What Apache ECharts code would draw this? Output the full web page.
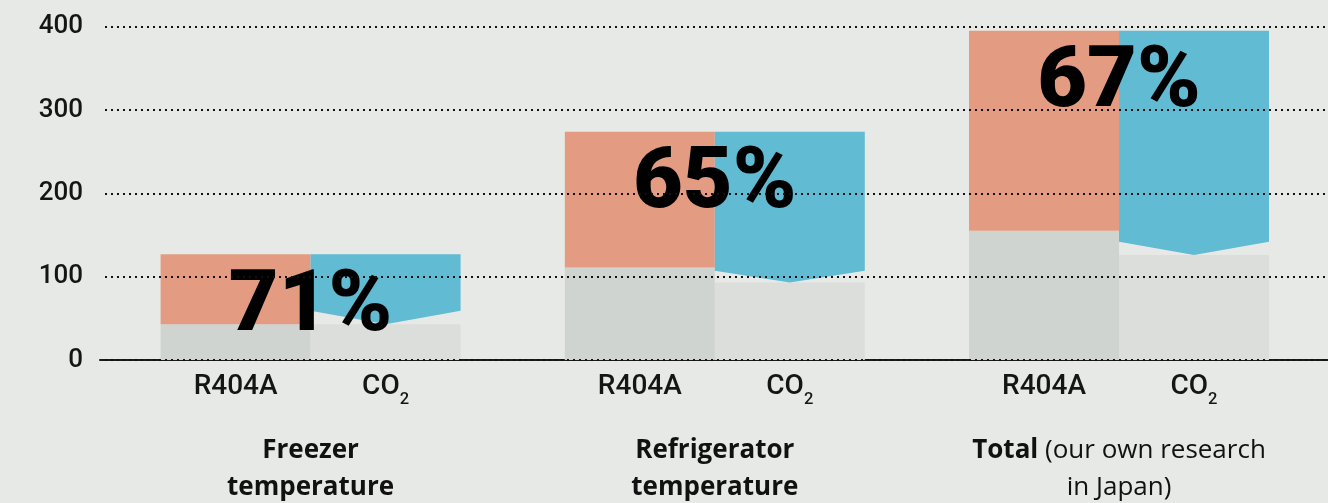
<!DOCTYPE html>
<html>
<head>
<meta charset="utf-8">
<title>R404A vs CO2</title>
<script src="https://cdn.jsdelivr.net/npm/echarts@6.0.0/dist/echarts.min.js"></script>
<style>
  html, body { margin: 0; padding: 0; background: #e7e9e6; }
  #chart { width: 1328px; height: 503px; }
</style>
</head>
<body>
<div id="chart"></div>
<script>
// values
const groups = [
  '{b|Freezer}\n{b|temperature}',
  '{b|Refrigerator}\n{b|temperature}',
  '{b|Total} (our own research\nin Japan)'
];
const refrigerants = ['R404A', 'CO{sub|2}'];
const r404aBase = [43, 111, 155];
const r404aTotal = [127, 274, 395];
const co2Base = [43, 93, 126];
const co2Edge = [59, 107, 142];
const co2Total = [127, 274, 395];
const savings = ['71%', '65%', '67%'];
const yTicks = [0, 100, 200, 300, 400];

const barWidth = 150;
const colors = {
  r404a: '#e39c81',
  r404aBase: '#cfd4d0',
  co2: '#61bbd3',
  co2Base: '#dcdedb'
};

function renderGroup(params, api) {
  const i = api.value(0);
  const base = api.coord([i, 0]);
  const cx = base[0];
  const y0 = base[1];
  const w = barWidth;
  const yOf = v => api.coord([i, v])[1];

  const rb = yOf(api.value(1));
  const rt = yOf(api.value(2));
  const cb = yOf(api.value(3));
  const ce = yOf(api.value(4));
  const ct = yOf(api.value(5));

  const labelStyle = {
    fill: '#151515',
    fontFamily: 'Roboto',
    fontWeight: 500,
    fontSize: 28,
    lineHeight: 44,
    align: 'center',
    verticalAlign: 'middle',
    rich: {
      sub: { fontFamily: 'Roboto', fontWeight: 500, fontSize: 16.5, verticalAlign: 'bottom' }
    }
  };

  return {
    type: 'group',
    children: [
      { type: 'rect', shape: { x: cx - w, y: rb, width: w, height: y0 - rb }, style: { fill: colors.r404aBase } },
      { type: 'rect', shape: { x: cx - w, y: rt, width: w, height: rb - rt }, style: { fill: colors.r404a } },
      { type: 'rect', shape: { x: cx, y: cb, width: w, height: y0 - cb }, style: { fill: colors.co2Base } },
      {
        type: 'polygon',
        shape: { points: [[cx, ct], [cx + w, ct], [cx + w, ce], [cx + w / 2, cb], [cx, ce]] },
        style: { fill: colors.co2 }
      },
      {
        type: 'text', x: cx, y: rt + 54,
        style: {
          text: savings[params.dataIndex],
          fill: '#000',
          fontFamily: 'Roboto',
          fontWeight: 900,
          fontSize: 86,
          align: 'center',
          verticalAlign: 'middle'
        }
      },
      { type: 'text', x: cx - w / 2, y: y0 + 26.5, style: Object.assign({ text: refrigerants[0] }, labelStyle) },
      { type: 'text', x: cx + w / 2, y: y0 + 26.5, style: Object.assign({ text: refrigerants[1] }, labelStyle) },
      {
        type: 'text', x: cx, y: y0 + 72,
        style: {
          text: groups[params.dataIndex],
          fill: '#111',
          fontFamily: 'Open Sans',
          fontSize: 26,
          lineHeight: 37,
          align: 'center',
          verticalAlign: 'top',
          rich: {
            b: { fontFamily: 'Open Sans', fontWeight: 'bold', fontSize: 26, lineHeight: 37, fill: '#111' }
          }
        }
      }
    ]
  };
}

const chart = echarts.init(document.getElementById('chart'));

chart.setOption({
  backgroundColor: '#e7e9e6',
  animation: false,
  grid: [
    { left: 100, right: 0, top: 26.67, bottom: 143 },
    { left: 105, right: 0, top: 26.67, bottom: 143 }
  ],
  xAxis: [{
    type: 'value',
    gridIndex: 0,
    min: -0.521,
    max: 2.517,
    axisLine: { show: true, lineStyle: { color: '#1a1a1a', width: 2 } },
    axisTick: { show: false },
    axisLabel: { show: false },
    splitLine: { show: false }
  }, {
    type: 'value',
    gridIndex: 1,
    min: 0,
    max: 1,
    show: false
  }],
  yAxis: [{
    type: 'value',
    gridIndex: 0,
    min: yTicks[0],
    max: yTicks[yTicks.length - 1],
    show: false
  }, {
    type: 'value',
    gridIndex: 1,
    z: 3,
    min: yTicks[0],
    max: yTicks[yTicks.length - 1],
    interval: yTicks[1] - yTicks[0],
    axisLine: { show: false },
    axisTick: { show: false },
    axisLabel: {
      margin: 22,
      color: '#151515',
      fontFamily: 'Roboto',
      fontWeight: 500,
      fontSize: 26
    },
    splitLine: {
      show: true,
      lineStyle: { color: '#111', width: 2, type: [2, 4] }
    }
  }],
  series: [{
    type: 'custom',
    xAxisIndex: 0,
    yAxisIndex: 0,
    clip: false,
    renderItem: renderGroup,
    encode: { x: 0, y: 2 },
    data: groups.map((g, i) => [i, r404aBase[i], r404aTotal[i], co2Base[i], co2Edge[i], co2Total[i]])
  }]
});
</script>
</body>
</html>
